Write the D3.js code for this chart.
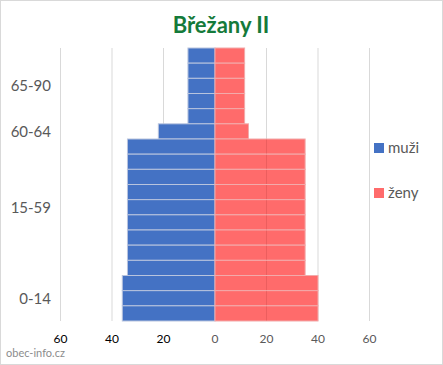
<!DOCTYPE html>
<html><head><meta charset="utf-8">
<script src="https://cdn.jsdelivr.net/npm/d3@7"></script>
<style>body{margin:0;background:#fff}svg{display:block}</style>
</head><body>
<script>
// categories from top (oldest) to bottom (youngest)
const categories = ["b1","b2","b3","b4","b5","b6","b7","b8","b9","b10","b11","b12","b13","b14","b15","b16","b17","b18"];
const categoryLabels = ["","","65-90","","","60-64","","","","","15-59","","","","","","0-14",""];
const muzi = [10.5,10.5,10.5,10.5,10.5,22,34,34,34,34,34,34,34,34,34,36,36,36];
const zeny = [11.5,11.5,11.5,11.5,11.5,13,35,35,35,35,35,35,35,35,35,40,40,40];
const xTicks = [-60,-40,-20,0,20,40,60];
const seriesNames = ["muži","ženy"];
const colors = ["#4472C4","#FF6B6B"];

const W = 443, H = 365;
const svg = d3.select("body").append("svg").attr("width", W).attr("height", H);
svg.append("rect").attr("x",0.5).attr("y",0.5).attr("width",W-1).attr("height",H-1)
  .attr("fill","#fff").attr("stroke","#d9d9d9");

const x = d3.scaleLinear().domain([-60,60]).range([60.5,369.5]);
const y = d3.scaleBand().domain(categories).range([48,321]).padding(0);
const font = "Lato, 'Open Sans', sans-serif";

// gridlines
svg.append("g").selectAll("line").data(xTicks.filter(d=>d!==0)).join("line")
  .attr("x1",d=>x(d)).attr("x2",d=>x(d)).attr("y1",48).attr("y2",321)
  .attr("stroke","#d9d9d9").attr("stroke-width",1);

// bars
svg.append("g").selectAll("rect").data(muzi).join("rect")
  .attr("x",(d)=>x(-d)).attr("width",d=>x(0)-x(-d))
  .attr("y",(d,i)=>y(categories[i])).attr("height",y.bandwidth())
  .attr("fill",colors[0]).attr("stroke","#b8c4de").attr("stroke-width",1);
svg.append("g").selectAll("rect").data(zeny).join("rect")
  .attr("x",x(0)).attr("width",d=>x(d)-x(0))
  .attr("y",(d,i)=>y(categories[i])).attr("height",y.bandwidth())
  .attr("fill",colors[1]).attr("stroke","#f2aaaa").attr("stroke-width",1);

// gridlines seen through the red bars (only inside the bars)
const segs = [];
zeny.forEach((v,i)=>xTicks.filter(t=>t>0 && t<v).forEach(t=>segs.push({t,i})));
svg.append("g").selectAll("line").data(segs).join("line")
  .attr("x1",d=>x(d.t)).attr("x2",d=>x(d.t))
  .attr("y1",d=>y(categories[d.i])+0.5).attr("y2",d=>y(categories[d.i])+y.bandwidth()-0.5)
  .attr("stroke","#c84848").attr("stroke-opacity",0.35).attr("stroke-width",1);

// category labels
svg.append("g").selectAll("text").data(categoryLabels).join("text")
  .attr("x",51).attr("y",(d,i)=>y(categories[i])+y.bandwidth()/2)
  .attr("dy","0.35em").attr("text-anchor","end")
  .attr("font-family",font).attr("font-size",15)
  .attr("fill","#595959").text(d=>d);

// x axis tick labels
svg.append("g").selectAll("text").data(xTicks).join("text")
  .attr("x",d=>x(d)).attr("y",339).attr("dy","0.35em").attr("text-anchor","middle")
  .attr("font-family",font).attr("font-size",12)
  .attr("fill",d=>d<0?"#000":"#595959").text(d=>Math.abs(d));

// title
svg.append("text").attr("x",221).attr("y",25).attr("dy","0.35em").attr("text-anchor","middle")
  .attr("font-family",font).attr("font-weight","bold").attr("font-size",22)
  .attr("fill","#157a3a").text("Břežany II");

// legend
const lg = svg.append("g").selectAll("g").data(seriesNames).join("g")
  .attr("transform",(d,i)=>`translate(374,${148+i*45})`);
lg.append("rect").attr("x",0).attr("y",-5).attr("width",10).attr("height",10)
  .attr("fill",(d,i)=>colors[i]);
lg.append("text").attr("x",14).attr("y",0).attr("dy","0.35em")
  .attr("font-family",font).attr("font-size",15)
  .attr("fill","#595959").text(d=>d);

// source
svg.append("text").attr("x",6).attr("y",357).attr("font-family",font)
  .attr("font-size",11).attr("fill","#8c8c8c").text("obec-info.cz");
</script>
</body></html>
